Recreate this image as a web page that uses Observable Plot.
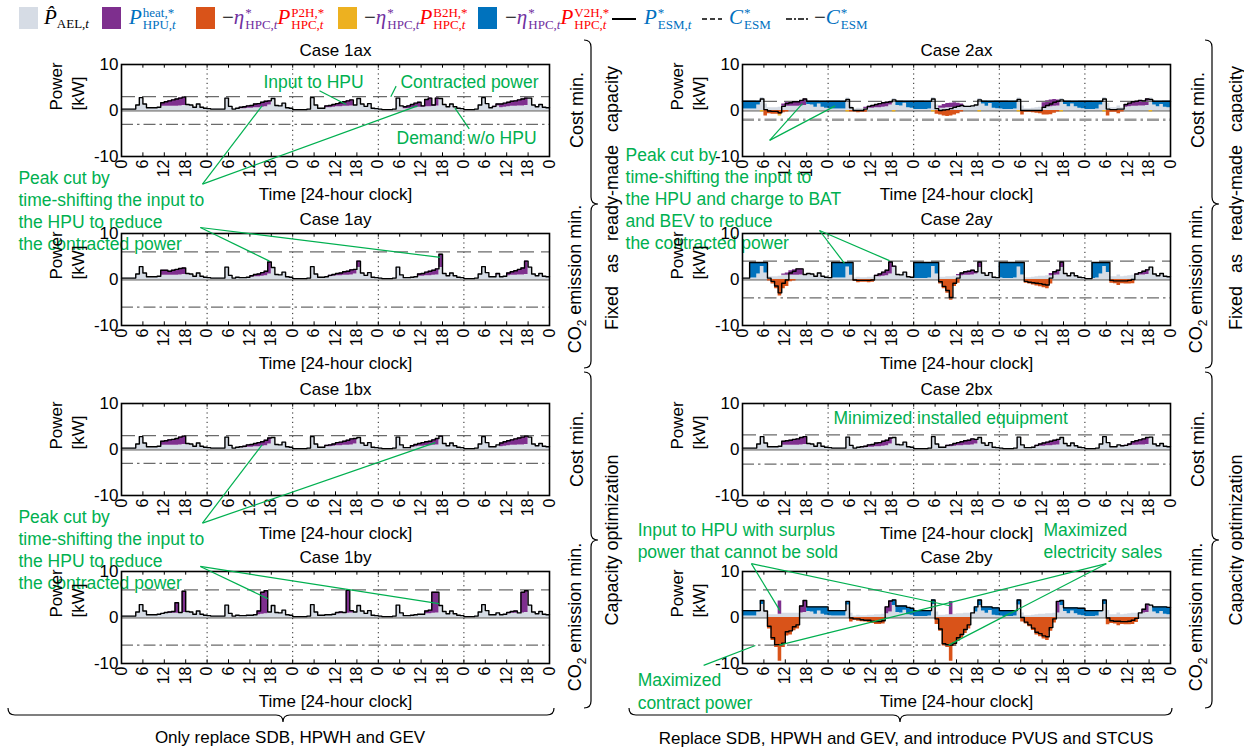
<!DOCTYPE html>
<html><head><meta charset="utf-8">
<script src="https://cdn.jsdelivr.net/npm/d3@7"></script>
<script src="https://cdn.jsdelivr.net/npm/@observablehq/plot@0.6"></script>
<style>
body{margin:0;background:#fff;}
#root{position:relative;width:1244px;height:749px;overflow:hidden;font-family:"Liberation Sans",Arial,sans-serif;color:#000;}
.pan{position:absolute;}
.pan svg{overflow:visible;background:transparent;}
.sw{position:absolute;top:7px;width:19px;height:22px;}
.lg{position:absolute;top:3px;font-family:"Liberation Serif",serif;font-size:21px;line-height:28px;white-space:nowrap;}
.lg sub{font-size:13px;font-style:normal;vertical-align:-4px;}
.ss{display:inline-block;vertical-align:middle;font-size:13px;line-height:12px;text-align:left;margin-left:1px;font-style:normal;}
.ss span.r{display:block;}
.pu{color:#7030A0}.rd{color:#FF0000}.bl{color:#0070C0}
.rot{position:absolute;transform:translate(-50%,-50%) rotate(-90deg);white-space:nowrap;font-size:18px;}
.bt{position:absolute;transform:translate(-50%,-50%);white-space:nowrap;font-size:17px;}
</style></head>
<body><div id="root"></div>
<script>
// ---------- helpers (sparse encoding of hourly values, 24 per day) ----------
function sp(o){const a=new Array(24).fill(0);for(const [k,vals] of Object.entries(o||{}))vals.forEach((v,i)=>a[+k+i]=v);return a;}
function days(...d){return d.flat();}

// ---------- data (hourly, 5 days = 120 h) ----------
const hours = d3.range(0,121,6);
const AEL = [
 0.3,0.3,0.3,0.3,1.2,2.8,1.4,0.6,0.6,0.6,0.7,0.9,0.9,0.9,0.9,0.9,1.0,1.1,1.3,1.2,0.7,1.4,0.7,0.5,
 0.4,0.3,0.3,0.3,0.3,2.7,0.9,0.3,0.5,0.4,0.4,0.5,0.5,0.6,0.6,0.7,0.8,1.2,2.6,1.1,1.0,1.6,0.6,0.5,
 0.2,0.2,0.2,0.2,0.3,2.8,1.2,0.5,0.5,0.6,0.6,0.7,0.8,0.8,0.9,0.9,1.0,1.2,2.6,1.4,0.9,1.5,0.5,0.4,
 0.3,0.2,0.2,0.2,0.3,2.7,1.0,0.4,0.4,0.5,0.6,0.7,0.7,0.8,0.8,0.9,1.0,2.6,1.3,0.8,1.4,0.8,0.5,0.4,
 0.2,0.2,0.2,0.3,1.2,2.8,1.5,0.6,0.6,1.0,0.6,0.7,0.8,0.9,0.9,1.0,1.0,1.1,2.7,1.2,0.8,1.3,0.7,0.6];

const hpu1ax = days(sp({11:[0.8,1.0,1.2,1.4,1.6,1.7,1.8]}), sp({9:[0.3,0.4,0.5,0.6,0.8,0.9,1.1,1.2,0.9]}), sp({9:[0.4,0.5,0.6,0.7,0.9,1.0,1.2,1.3]}), sp({7:[0.4,0.6,0.8,1.0,1.1,0.3,1.6,1.9,0.3,1.7]}), sp({8:[0.3,0.4,0.8,0.9,1.0,1.1,1.2,1.3,1.5,1.6]}));
const hpu1ay = days(sp({11:[1.1,1.1,0.9,1.1,1.3,1.4,1.4]}), sp({12:[0.3,0.5,0.6,0.8,1.0,2.6]}), sp({10:[0.3,0.4,0.5,0.6,0.8,0.9,1.1,1.0,1.4]}), sp({11:[0.5,0.6,0.8,1.0,1.1,1.3,2.9]}), sp({9:[0.3,0,0,0.6,0.8,1.0,1.2,1.5,2.9]}));
const hpu1bx = days(sp({11:[0.9,1.0,1.2,1.3,1.5,1.7,1.8]}), sp({9:[0.2,0.3,0.5,0.6,0.7,0.9,1.0,1.2,1.3]}), sp({9:[0.3,0.4,0.5,0.7,0.8,0.9,1.1,1.3,1.2]}), sp({9:[0.3,0.5,0.6,0.8,0.9,1.0,1.2,1.4,0.3]}), sp({10:[0.8,1.0,1.1,1.2,1.4,1.5,1.7,1.8]}));
const hpu1by = days(sp({12:[0.2,0.3,0.4,2.3,0.1,4.6]}), sp({14:[0.8,4.8,5.0]}), sp({12:[0.3,0.4,0.2,5.0,0.5]}), sp({13:[0.6,0.8,4.6,4.5]}), sp({12:[0.3,0.4,0.5,0,4.5,4.7]}));
const hpu2bx = days(sp({11:[0.9,1.0,1.1,1.3,1.4,1.6,1.7]}), sp({9:[0.2,0.3,0.5,0.6,0.8,0.9,1.1,1.2,1.3]}), sp({9:[0.3,0.4,0.6,0.7,0.9,1.0,1.1,1.3,1.0]}), sp({10:[0.3,0.5,0.7,0.8,1.0,1.1,1.2]}), sp({10:[0.2,0.2,0.4,0.8,1.0,1.1,1.3,1.5]}));

const hpu2ax = days(sp({11:[0.5,0.9,0.8,1.0,1.0,1.2,1.4]}), sp({10:[0.3,0.4,0.6,0.7,0.9,1.0,1.0,0.7]}), sp({7:[0.5,0.8,0.9,1.0,1.0,0.8,0.6]}), sp({12:[1.0,1.3,1.5,1.5,1.3]}), sp({11:[0.6,0.8,1.0,1.1,1.2,1.1,1.4]}));
const v2h2ax = days(sp({0:[1.7,1.7,1.7,1.7,0.8],18:[0.7,0.8,1.3,0.6,1.3,1.5]}), sp({0:[1.6,1.7,1.7,1.7,1.7],19:[0.9,1.0,0.4,1.4,1.5]}), sp({0:[1.8,1.8,1.8,1.8,1.7],19:[0.6,1.1,0.5,1.5,1.6]}), sp({0:[1.7,1.8,1.8,1.8,1.7],18:[0.7,1.2,0.6,1.2,1.5,1.6]}), sp({0:[1.8,1.8,1.8,1.7,0.8],19:[0.8,1.2,0.7,1.3,1.4]}));
const p2h2ax = days(sp({6:[-1.2,-0.7,-0.8,-0.8,-0.9,-0.5,-0.3]}), sp({6:[-0.3,-0.3,-0.5,-0.4,-0.4]}), sp({6:[-0.8,-1.0,-1.2,-1.3,-1.2,-1.0,-0.7,-0.3]}), sp({6:[-1.0,-0.4,-0.4,-0.5,-0.6,-0.7,-1.0,-1.0,-0.9,-0.6,-0.3]}), sp({6:[-1.2,-0.4,-0.4,-0.7,-0.3]}));
const b2h2ax = days(sp({5:[-0.3],10:[-0.3]}), sp({5:[-0.3],18:[-0.3]}), sp({5:[-0.3],18:[-0.3]}), sp({5:[-0.3],17:[-0.3]}), sp({5:[-0.3],18:[-0.3]}));

const hpu2ay = days(sp({11:[0.3,0.5,1.0,1.2,1.4,1.3]}), sp({13:[0.3,0.6,0.9,1.2,2.6,0.3]}), sp({12:[0.3,0.6,0.8,0.9,1.0,0.5,1.2]}), sp({14:[0.5,0.8,1.0,1.2]}), sp({14:[0.3,0.5,0.8,1.0]}));
const v2h2ay = days(sp({2:[3.4,3.4,2.5,0.9,2.3]}), sp({1:[3.4,3.4,3.4,3.4,1.0,2.8]}), sp({0:[3.5,3.5,3.5,3.5,3.4,0.9,2.5]}), sp({0:[3.4,3.5,3.5,3.5,3.4,1.0,2.7]}), sp({2:[3.5,3.4,2.5,0.9,2.2]}));
const p2h2ay = days(sp({7:[-0.3,-1.0,-2.0,-3.6,-2.0,-1.5,-0.5,-0.3]}), sp({7:[-0.4,-0.7,-0.6,-0.6,-0.7,-0.6]}), sp({7:[-1.0,-2.0,-3.0,-4.5,-1.5,-0.8]}), sp({7:[-0.8,-1.0,-1.2,-1.4,-1.6,-1.8,-2.0,-1.0]}), sp({7:[-0.8,-0.9,-1.3,-0.9,-1.0,-1.0,-0.9]}));

const hpu2by = days(sp({10:[2.9],16:[1.5,2.6]}), sp({16:[1.5,2.4]}), sp({10:[2.9]}), sp({16:[2.5]}), sp({16:[0.8,1.8]}));
const v2h2by = days(sp({0:[1.2,1.2,1.2,1.2,0.3,0.9],18:[1.0,1.1,1.6,0.9,1.6,1.8]}), sp({0:[1.1,1.2,1.2,1.2,1.2,0.8],18:[1.2,1.4,1.5,0.9,1.6,1.5]}), sp({0:[1.3,1.3,1.3,1.3,1.2,1.0],17:[1.1,1.2,0.9,1.4,0.8,1.6,1.7]}), sp({0:[1.2,1.3,1.3,1.3,1.2,1.1],17:[1.1,0.8,1.3,0.7,1.3,1.5,1.6]}), sp({0:[1.3,1.3,1.3,1.2,0.3,1.0],19:[1.1,1.5,1.0,1.6,1.6]}));
const p2h2by = days(sp({7:[-2.5,-5.0,-6.5,-9.5,-6.5,-4.0,-3.8,-2.9,-2.5]}), sp({6:[-1.0,-0.6,-0.8,-0.9,-1.0,-1.1,-1.3,-1.5,-1.5,-1.4]}), sp({6:[-1.5,-3.0,-6.2,-6.5,-9.5,-6.3,-5.2,-4.5,-3.5,-2.5]}), sp({6:[-1.0,-1.4,-2.0,-2.8,-3.8,-4.2,-4.7,-5.0,-3.0,-1.2]}), sp({6:[-1.6,-1.3,-1.4,-1.8,-1.5,-1.6,-1.6,-1.5,-1.1]}));

// contracted power per case
const cases = ["1ax","1ay","1bx","1by","2ax","2ay","2bx","2by"];
const contract = {"1ax":3,"1ay":6,"1bx":3,"1by":6,"2ax":2,"2ay":4,"2bx":3.2,"2by":6};

// annotations (data coordinates: hour, kW)
const green = "#00B050";
const peakText1 = ["Peak cut by","time-shifting the input to","the HPU to reduce","the contracted power"];
const peakText2 = ["Peak cut by","time-shifting the input to","the HPU and charge to BAT","and BEV to reduce","the contracted power"];
const notes = {
 "1ax": {texts:[{x:39.8,y:6.1,s:"Input to HPU"},{x:78.2,y:6.1,s:"Contracted power"},{x:77.1,y:-6.1,s:"Demand w/o HPU"},
          ...peakText1.map((s,i)=>({x:-28.9,y:-14.8-4.78*i,s}))],
         links:[[55.5,4.3,63,1.3],[77,5.3,75.5,3.0],[97.5,-4.0,93.5,0.5],[22.7,-16,39.4,1.0],[22.7,-16,83,1.0]]},
 "1ay": {texts:[], links:[[22.1,11.3,41.5,4.0],[22.1,11.3,89.4,4.8]]},
 "1bx": {texts:peakText1.map((s,i)=>({x:-28.9,y:-14.8-4.78*i,s})), links:[[22.7,-16,39.4,1.0],[22.7,-16,88,1.5]]},
 "1by": {texts:[], links:[[22.1,11.1,41,4.1],[22.1,11.1,89,3.0]]},
 "2ax": {texts:peakText2.map((s,i)=>({x:-32.8,y:-9.8-4.78*i,s})), links:[[7.6,-6.5,16.8,1.5],[7.6,-6.5,26,1.0]]},
 "2ay": {texts:[], links:[[21.6,10.65,28.6,3.5],[21.6,10.65,41.2,4.1]]},
 "2bx": {texts:[{x:25.5,y:6.7,s:"Minimized installed equipment"}], links:[]},
 "2by": {texts:[{x:-29.4,y:18.9,s:"Input to HPU with surplus"},{x:-29.4,y:14.1,s:"power that cannot be sold"},
                {x:84.4,y:18.9,s:"Maximized"},{x:84.4,y:14.1,s:"electricity sales"},
                {x:-29.4,y:-13.7,s:"Maximized"},{x:-29.4,y:-18.7,s:"contract power"}],
         links:[[2.5,11.7,10.5,1.5],[2.5,11.7,58.5,2.5],[102,11.7,10.3,-6.0],[102,11.7,57.8,-6.0],[-10.9,-10.4,3.6,-6.1]]}
};

const series = {
 "1ax":{hpu:hpu1ax}, "1ay":{hpu:hpu1ay}, "1bx":{hpu:hpu1bx}, "1by":{hpu:hpu1by},
 "2ax":{hpu:hpu2ax, v2h:v2h2ax, p2h:p2h2ax, b2h:b2h2ax},
 "2ay":{hpu:hpu2ay, v2h:v2h2ay, p2h:p2h2ay},
 "2bx":{hpu:hpu2bx},
 "2by":{hpu:hpu2by, v2h:v2h2by, p2h:p2h2by}
};

// ---------- layout ----------
const rowTop = [64,233,403,571];
const colCfg = [{left:0,width:600,ml:121},{left:600,width:644,ml:142}];
const frameH = 92, mt = 30, mb = 47;
const colors = {domain:["ael","hpu","p2h","b2h","v2h"], range:["#D6DCE5","#7E2F8E","#D95319","#EDB120","#0072BD"]};
const root = document.getElementById("root");

cases.forEach((c) => {
  const col = c[0]==="1" ? 0 : 1;
  const row = {"ax":0,"ay":1,"bx":2,"by":3}[c.slice(1)];
  const cfg = colCfg[col];
  const S = Object.assign({ael:AEL}, series[c]);
  const names = ["ael","hpu","v2h","p2h","b2h"].filter(n => S[n]);
  names.forEach(n => { if (S[n].length !== 120) console.error(c, n, S[n].length); });
  const rows = [];
  for (const n of names) for (let t = 0; t <= 120; t++) rows.push({t, v: S[n][Math.min(t,119)], s: n});
  const total = d3.range(0,121).map(t => ({t, v: d3.sum(names, n => S[n][Math.min(t,119)])}));
  const C = contract[c];
  const N = notes[c];
  const thickNeg = c === "2ax";
  const plot = Plot.plot({
    width: cfg.width, height: mt + frameH + mb,
    marginLeft: cfg.ml, marginRight: cfg.width - cfg.ml - 428, marginTop: mt, marginBottom: mb,
    x: {domain:[0,120]}, y: {domain:[-10,10]},
    color: colors,
    style: {background:"transparent", overflow:"visible", fontFamily:"Liberation Sans, Arial, sans-serif", color:"black"},
    marks: [
      Plot.ruleY([0], {stroke:"#9a9a9a", strokeWidth:2.5}),
      Plot.areaY(rows, {x:"t", y:"v", z:"s", fill:"s", curve:"step-after", order:["ael","hpu","v2h","p2h","b2h"]}),
      Plot.ruleX([24,48,72,96], {stroke:"#222", strokeDasharray:"1.2,3.5", strokeWidth:1}),
      Plot.ruleY([C], {stroke:"#6b6b6b", strokeDasharray:"14,7", strokeWidth:1.3}),
      Plot.ruleY([-C], {stroke: thickNeg ? "#9a9a9a" : "#6b6b6b", strokeDasharray:"12,4,2.5,4", strokeWidth: thickNeg ? 2.6 : 1.3}),
      Plot.line(total, {x:"t", y:"v", curve:"step-after", stroke:"black", strokeWidth:1.4}),
      Plot.ruleX(hours, {y1:-10, y2:-9.2, stroke:"black"}),
      Plot.ruleX(hours, {y1:9.2, y2:10, stroke:"black"}),
      Plot.frame({stroke:"black", strokeWidth:1.6}),
      Plot.axisX({ticks: hours, tickFormat: d => String(d % 24), tickRotate: -90, tickSize: 0, tickPadding: 3, fontSize: 16, label: null}),
      Plot.axisY({ticks: [-10,0,10], tickFormat: d => String(d), tickSize: 0, tickPadding: 3, fontSize: 17, label: null}),
      Plot.text(["Case " + c], {frameAnchor:"top", lineAnchor:"middle", dy:-14, fontSize:17}),
      Plot.text(["Time [24-hour clock]"], {frameAnchor:"bottom", lineAnchor:"middle", dy:38, fontSize:17}),
      Plot.text(["Power\n[kW]"], {frameAnchor:"left", lineAnchor:"middle", rotate:-90, dx:-56, fontSize:17, lineHeight:1.3}),
      Plot.link(N.links.map(([x1,y1,x2,y2]) => ({x1,y1,x2,y2})), {x1:"x1", y1:"y1", x2:"x2", y2:"y2", stroke:green, strokeWidth:1.2}),
      Plot.text(N.texts, {x:"x", y:"y", text:"s", textAnchor:"start", fill:green, fontSize:17.5})
    ]
  });
  const div = document.createElement("div");
  div.className = "pan";
  div.style.left = cfg.left + "px";
  div.style.top = (rowTop[row] - mt) + "px";
  div.appendChild(plot);
  root.appendChild(div);
});

// ---------- side labels ----------
function addDiv(cls, html, x, y, extra) {
  const d = document.createElement("div");
  d.className = cls; d.innerHTML = html;
  d.style.left = x + "px"; d.style.top = y + "px";
  if (extra) Object.assign(d.style, extra);
  root.appendChild(d);
}
const rowMid = rowTop.map(t => t + frameH/2);
const sideLabels = ["Cost min.","CO<sub style='font-size:12px'>2</sub> emission min.","Cost min.","CO<sub style='font-size:12px'>2</sub> emission min."];
[577,1198].forEach(x => sideLabels.forEach((s,i) => addDiv("rot", s, x, rowMid[i])));
[612,1236].forEach(x => {
  addDiv("rot", "Fixed as ready-made capacity", x, 198, {wordSpacing:"8px"});
  addDiv("rot", "Capacity optimization", x, 540);
});
addDiv("bt", "Only replace SDB, HPWH and GEV", 290, 738);
addDiv("bt", "Replace SDB, HPWH and GEV, and introduce PVUS and STCUS", 906, 739);

// ---------- legend ----------
const ss = (a,b) => `<span class="ss"><span class="r">${a}</span><span class="r">${b}</span></span>`;
const legend = [
  ["sw",19,"#D6DCE5"], ["lg",44,`<i>P\u0302</i><sub>AEL,<i>t</i></sub>`],
  ["sw",102,"#7E2F8E"], ["lg",129,`<span class="bl"><i>P</i>${ss("heat,*","HPU,<i>t</i>")}</span>`],
  ["sw",196,"#D95319"], ["lg",222,`−<span class="pu"><i>η</i>${ss("*","HPC,<i>t</i>")}</span><span class="rd"><i>P</i>${ss("P2H,*","HPC,<i>t</i>")}</span>`],
  ["sw",338,"#EDB120"], ["lg",364,`−<span class="pu"><i>η</i>${ss("*","HPC,<i>t</i>")}</span><span class="rd"><i>P</i>${ss("B2H,*","HPC,<i>t</i>")}</span>`],
  ["sw",478,"#0072BD"], ["lg",505,`−<span class="pu"><i>η</i>${ss("*","HPC,<i>t</i>")}</span><span class="rd"><i>P</i>${ss("V2H,*","HPC,<i>t</i>")}</span>`],
  ["lg",644,`<span class="bl"><i>P</i>${ss("*","ESM,<i>t</i>")}</span>`],
  ["lg",729,`<span class="bl"><i>C</i>${ss("*","ESM")}</span>`],
  ["lg",814,`−<span class="bl"><i>C</i>${ss("*","ESM")}</span>`]
];
legend.forEach(([k,x,v]) => {
  const d = document.createElement("div");
  d.className = k; d.style.left = x + "px";
  if (k === "sw") d.style.background = v; else d.innerHTML = v;
  root.appendChild(d);
});

// ---------- decorations: braces and legend line samples ----------
const NS = "http://www.w3.org/2000/svg";
const deco = document.createElementNS(NS, "svg");
deco.setAttribute("width", 1244); deco.setAttribute("height", 749);
deco.style.position = "absolute"; deco.style.left = "0"; deco.style.top = "0"; deco.style.pointerEvents = "none";
function path(d, extra) {
  const p = document.createElementNS(NS, "path");
  p.setAttribute("d", d); p.setAttribute("fill", "none"); p.setAttribute("stroke", "#000"); p.setAttribute("stroke-width", extra && extra.w || 1.2);
  if (extra && extra.dash) p.setAttribute("stroke-dasharray", extra.dash);
  deco.appendChild(p);
}
function vbrace(x, y1, y2, d) {
  const m = (y1 + y2) / 2;
  path(`M${x},${y1} Q${x+d},${y1} ${x+d},${y1+d} L${x+d},${m-d} Q${x+d},${m} ${x+2*d},${m} Q${x+d},${m} ${x+d},${m+d} L${x+d},${y2-d} Q${x+d},${y2} ${x},${y2}`);
}
function hbrace(x1, x2, y, d, m) {
  m = m ?? (x1 + x2) / 2;
  path(`M${x1},${y} Q${x1},${y+d} ${x1+d},${y+d} L${m-d},${y+d} Q${m},${y+d} ${m},${y+2*d} Q${m},${y+d} ${m+d},${y+d} L${x2-d},${y+d} Q${x2},${y+d} ${x2},${y}`);
}
vbrace(584, 40, 368, 7); vbrace(584, 372, 708, 7);
vbrace(1205, 40, 368, 7); vbrace(1205, 372, 708, 7);
hbrace(8, 554, 708, 7, 283); hbrace(629, 1172, 708, 7, 900);
path("M612,19 L636,19", {w:2});
path("M702,19 L722,19", {w:1.5, dash:"5,3"});
path("M786,19 L808,19", {w:1.5, dash:"6,2,2,2"});
root.appendChild(deco);
</script>
</body></html>
